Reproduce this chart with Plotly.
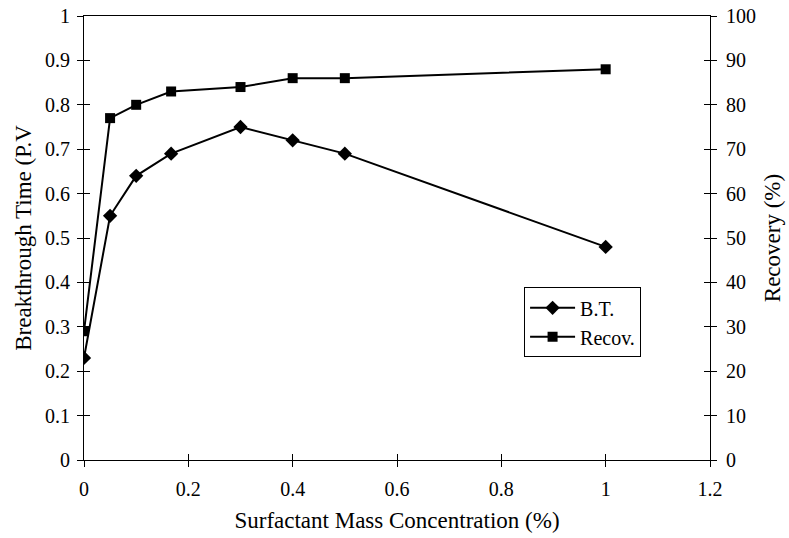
import plotly.graph_objects as go

conc = [0, 0.05, 0.1, 0.167, 0.3, 0.4, 0.5, 1.0]
bt = [0.23, 0.55, 0.64, 0.69, 0.75, 0.72, 0.69, 0.48]
recov = [29, 77, 80, 83, 84, 86, 86, 88]

FONT = "Liberation Serif"
fig = go.Figure()
fig.add_trace(go.Scatter(x=conc, y=bt, name="B.T.", mode="lines+markers",
                         line=dict(color="black", width=2),
                         marker=dict(symbol="diamond", size=11, color="black"),
                         xaxis="x", yaxis="y"))
fig.add_trace(go.Scatter(x=conc, y=recov, name="Recov.", mode="lines+markers",
                         line=dict(color="black", width=2),
                         marker=dict(symbol="square", size=10, color="black"),
                         xaxis="x", yaxis="y2"))
# invisible traces to host overlay axes (inside tick halves)
fig.add_trace(go.Scatter(x=[None], y=[None], xaxis="x3", yaxis="y3", showlegend=False, hoverinfo="skip"))
fig.add_trace(go.Scatter(x=[None], y=[None], xaxis="x3", yaxis="y4", showlegend=False, hoverinfo="skip"))

tickfont = dict(family=FONT, size=20, color="black")
titlefont = dict(family=FONT, size=23, color="black")
common = dict(showgrid=False, zeroline=False, tickcolor="black", ticklen=6, tickwidth=1,
              automargin=False)

fig.update_layout(
    width=789, height=538,
    margin=dict(l=84, r=79, t=16, b=78),
    paper_bgcolor="white", plot_bgcolor="white",
    font=dict(family=FONT, size=20, color="black"),
    xaxis=dict(range=[0, 1.2], dtick=0.2, ticks="outside", showline=True, linecolor="black",
               linewidth=1, mirror=True, tickfont=tickfont, ticklabelstandoff=5,
               title=dict(text="Surfactant Mass Concentration (%)", font=titlefont, standoff=12),
               **common),
    yaxis=dict(range=[0, 1], dtick=0.1, ticks="outside", showline=True, linecolor="black",
               linewidth=1, tickfont=tickfont, ticklabelstandoff=3,
               title=dict(text="Breakthrough Time (P.V", font=titlefont, standoff=6),
               **common),
    yaxis2=dict(range=[0, 100], dtick=10, ticks="outside", showline=True, linecolor="black",
                linewidth=1, overlaying="y", side="right", tickfont=tickfont, ticklabelstandoff=5,
                title=dict(text="Recovery (%)", font=titlefont, standoff=8),
                **common),
    xaxis3=dict(range=[0, 1.2], dtick=0.2, ticks="inside", overlaying="x", anchor="y3",
                showticklabels=False, showline=False, **common),
    yaxis3=dict(range=[0, 1], dtick=0.1, ticks="inside", overlaying="y", anchor="x3", side="left",
                showticklabels=False, showline=False, **common),
    yaxis4=dict(range=[0, 100], dtick=10, ticks="inside", overlaying="y", anchor="x3", side="right",
                showticklabels=False, showline=False, **common),
    legend=dict(x=0.703, y=0.389, xanchor="left", yanchor="top", bordercolor="black", borderwidth=1,
                bgcolor="white", font=dict(family=FONT, size=20), itemwidth=45, tracegroupgap=0),
    showlegend=True,
)
fig.write_html("out.html")
